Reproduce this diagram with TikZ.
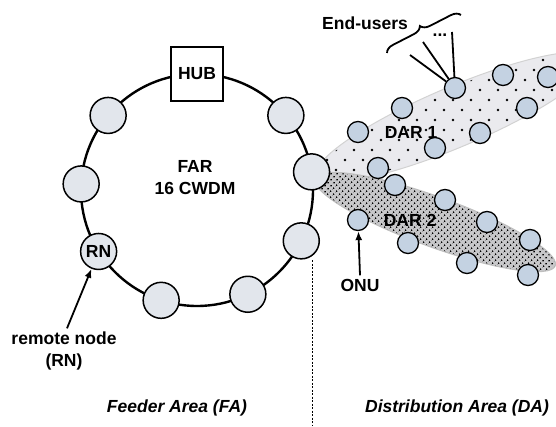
\documentclass[tikz,border=0pt]{standalone}
\usepackage{fontspec}
\setmainfont{Liberation Sans}
\usetikzlibrary{arrows.meta,patterns.meta,decorations.pathreplacing,positioning}
\tikzset{>=latex}
\definecolor{ringfill}{RGB}{226,230,236}
\definecolor{onufill}{RGB}{196,210,226}
\definecolor{darone}{RGB}{234,234,238}
\definecolor{dartwo}{RGB}{200,200,202}
\tikzset{
  ringnode/.style={circle, draw, line width=1.5pt, fill=ringfill, minimum size=36pt, inner sep=0pt},
  onu/.style={circle, draw, line width=1.3pt, fill=onufill, minimum size=21pt, inner sep=0pt},
  lbl/.style={font=\fontsize{17.5}{22}\selectfont\bfseries},
  arealbl/.style={font=\fontsize{17.5}{22}\selectfont\bfseries\itshape},
  pointer/.style={-{Latex[length=9pt,width=7pt]}, line width=1.8pt}
}

\begin{document}
\begin{tikzpicture}[x=1pt,y=1pt]
	\useasboundingbox (0,0) rectangle (556,426);
	\begin{scope}
		\clip (0,0) rectangle (556,426);
		% Distribution areas
		\path[fill=darone, draw=gray!35, line width=1pt, rotate around={23:(455,309)}]
		 (455,309) ellipse [x radius=150, y radius=30];
		\begin{scope}
			\clip[rotate around={23:(455,309)}] (455,309) ellipse [x radius=148, y radius=28];
			\foreach \r in {0,...,14}
				\foreach \c in {0,...,15}
					\fill ({300+18*\c+9*mod(\r,2)},{236+10*\r}) circle (1.4);
		\end{scope}
		\path[preaction={fill=dartwo}, draw=gray!50, line width=1pt, pattern={Dots[angle=45, distance=4pt, radius=1pt]}, rotate around={-20:(435,204)}]
		 (435,204) ellipse [x radius=128, y radius=25];
	\end{scope}

	% Border between areas
	\coordinate (bordertop) at (312,166);
	\coordinate (borderbot) at (312,0);
	\draw[dash pattern=on 2pt off 1.5pt, line width=0.8pt] (bordertop) -- (borderbot);

	% Ring
	\coordinate (ringc) at (197,236);
	\draw[line width=2.4pt] (ringc) circle (116);
	\node[draw, line width=1.4pt, fill=white, minimum width=52pt, minimum height=54pt, lbl] (hub) at ([shift={(90:116)}]ringc) {HUB};
	\foreach \a [count=\i] in {40,9,-26,-64,-108,177,140}
		\node[ringnode] (ring\i) at ([shift={(\a:116)}]ringc) {};
	\node[ringnode, lbl] (rn) at ([shift={(-148:116)}]ringc) {RN};
	\node[lbl, align=center] (far) at (195,248) {FAR\\16 CWDM};

	% Remote node label
	\node[lbl, align=center] (rnlabel) at (64,75) {remote node\\(RN)};
	\draw[pointer] ([xshift=3pt]rnlabel.north) -- (rn);

	% ONUs of DAR 1
	\foreach \x/\y [count=\i] in {455/338, 503/351, 548/349, 402/318, 527/318, 358/294, 480/293, 435/278, 378/258}
		\node[onu] (onua\i) at (\x,\y) {};
	% ONUs of DAR 2
	\foreach \x/\y [count=\i] in {358/206, 395/241, 445/226, 487/204, 408/183, 530/186, 467/163, 528/151}
		\node[onu] (onub\i) at (\x,\y) {};
	\node[lbl] (dar1) at (411,294) {DAR 1};
	\node[lbl] (dar2) at (410,206) {DAR 2};

	% ONU label
	\node[lbl] (onulabel) at (360,141) {ONU};
	\draw[pointer] (onulabel.north) -- (onub1);

	% End-users
	\node[lbl] (endusers) at (365,403) {End-users};
	\coordinate (user1) at (410,371);
	\coordinate (user2) at (423,384);
	\coordinate (user3) at (452,394);
	\foreach \u in {user1,user2,user3}
		\draw[line width=1.8pt] (onua1) -- (\u);
	\node[lbl, inner sep=0pt] (userdots) at (440,391) {...};
	\coordinate (bracea) at (387,373);
	\coordinate (braceb) at (461,411);
	\draw[line width=1.8pt, decorate, decoration={brace, amplitude=9pt}] (bracea) -- (braceb);

	% Area labels
	\node[arealbl] (fa) at (177,18) {Feeder Area (FA)};
	\node[arealbl] (da) at (457,18) {Distribution Area (DA)};
\end{tikzpicture}
\end{document}
